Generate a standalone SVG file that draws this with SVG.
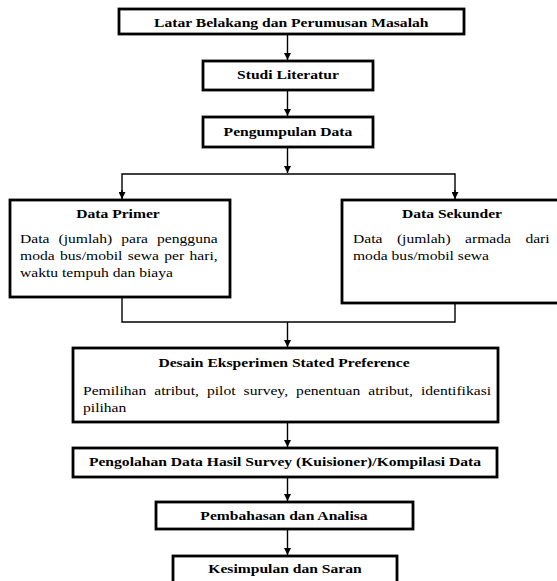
<svg xmlns="http://www.w3.org/2000/svg" width="557" height="581" viewBox="0 0 557 581">
<style>
.box{fill:#fff;stroke:#000;stroke-width:2.8}
.con{fill:none;stroke:#000;stroke-width:1.4}
.t{font-family:"Liberation Serif","Times New Roman",serif;font-size:12.5px;fill:#000}
.b{font-weight:bold;text-anchor:middle}
</style>
<defs>
<marker id="ah" markerUnits="userSpaceOnUse" markerWidth="8" markerHeight="8" refX="3" refY="6" orient="auto-start-reverse" viewBox="0 0 6 6" overflow="visible">
<path d="M0,0 L6,0 L3,6 Z" fill="#000" transform="rotate(-90 3 3)"/>
</marker>
<marker id="arr" markerUnits="userSpaceOnUse" markerWidth="7" markerHeight="7" refX="6" refY="3" orient="auto" viewBox="0 0 6 6">
<path d="M0,0 L6,3 L0,6 Z" fill="#000"/>
</marker>
</defs>
<rect width="557" height="581" fill="#fff"/>
<g id="connectors">
<line class="con" x1="287.5" y1="34" x2="287.5" y2="60" marker-end="url(#arr)"/>
<line class="con" x1="287.5" y1="90" x2="287.5" y2="116" marker-end="url(#arr)"/>
<line class="con" x1="287.5" y1="147" x2="287.5" y2="173" marker-end="url(#arr)"/>
<polyline class="con" points="122,198 122,174 455,174 455,198"/>
<line class="con" x1="122" y1="190" x2="122" y2="199" marker-end="url(#arr)"/>
<line class="con" x1="455" y1="190" x2="455" y2="199" marker-end="url(#arr)"/>
<polyline class="con" points="122,297 122,322 455,322 455,303"/>
<line class="con" x1="287.5" y1="322" x2="287.5" y2="347" marker-end="url(#arr)"/>
<line class="con" x1="287.5" y1="422" x2="287.5" y2="447" marker-end="url(#arr)"/>
<line class="con" x1="287.5" y1="477" x2="287.5" y2="501" marker-end="url(#arr)"/>
<line class="con" x1="287.5" y1="529" x2="287.5" y2="555" marker-end="url(#arr)"/>
</g>
<g id="n1"><rect class="box" x="119" y="9" width="345" height="25"/>
<text class="t b" transform="scale(1.25 1)" x="233" y="27.5">Latar Belakang dan Perumusan Masalah</text></g>
<g id="n2"><rect class="box" x="203" y="61" width="170" height="29"/>
<text class="t b" transform="scale(1.25 1)" x="230.4" y="79.5">Studi Literatur</text></g>
<g id="n3"><rect class="box" x="203" y="117" width="170" height="30"/>
<text class="t b" transform="scale(1.25 1)" x="230.4" y="136">Pengumpulan Data</text></g>
<g id="n4"><rect class="box" x="10" y="200" width="220" height="97"/>
<text class="t b" transform="scale(1.25 1)" x="94.4" y="218">Data Primer</text>
<text class="t" transform="scale(1.25 1)" x="16" y="243" style="word-spacing:4.09px">Data (jumlah) para pengguna</text>
<text class="t" transform="scale(1.25 1)" x="16" y="260" style="word-spacing:1.15px">moda bus/mobil sewa per hari,</text>
<text class="t" transform="scale(1.25 1)" x="16" y="277">waktu tempuh dan biaya</text></g>
<g id="n5"><rect class="box" x="342" y="200" width="222" height="103"/>
<text class="t b" transform="scale(1.25 1)" x="361.6" y="218">Data Sekunder</text>
<text class="t" transform="scale(1.25 1)" x="282.4" y="243" style="word-spacing:8.44px">Data (jumlah) armada dari</text>
<text class="t" transform="scale(1.25 1)" x="282.4" y="260">moda bus/mobil sewa</text></g>
<g id="n6"><rect class="box" x="73" y="348" width="425" height="74"/>
<text class="t b" transform="scale(1.25 1)" x="227.2" y="367">Desain Eksperimen Stated Preference</text>
<text class="t" transform="scale(1.25 1)" x="66.4" y="395" style="word-spacing:3.31px">Pemilihan atribut, pilot survey, penentuan atribut, identifikasi</text>
<text class="t" transform="scale(1.25 1)" x="66.4" y="412">pilihan</text></g>
<g id="n7"><rect class="box" x="73" y="448" width="424" height="29"/>
<text class="t b" transform="scale(1.25 1)" x="228" y="466">Pengolahan Data Hasil Survey (Kuisioner)/Kompilasi Data</text></g>
<g id="n8"><rect class="box" x="156" y="502" width="257" height="27"/>
<text class="t b" transform="scale(1.25 1)" x="227.2" y="520.5">Pembahasan dan Analisa</text></g>
<g id="n9"><rect class="box" x="173" y="556" width="224" height="32"/>
<text class="t b" transform="scale(1.25 1)" x="228" y="573">Kesimpulan dan Saran</text></g>
</svg>
